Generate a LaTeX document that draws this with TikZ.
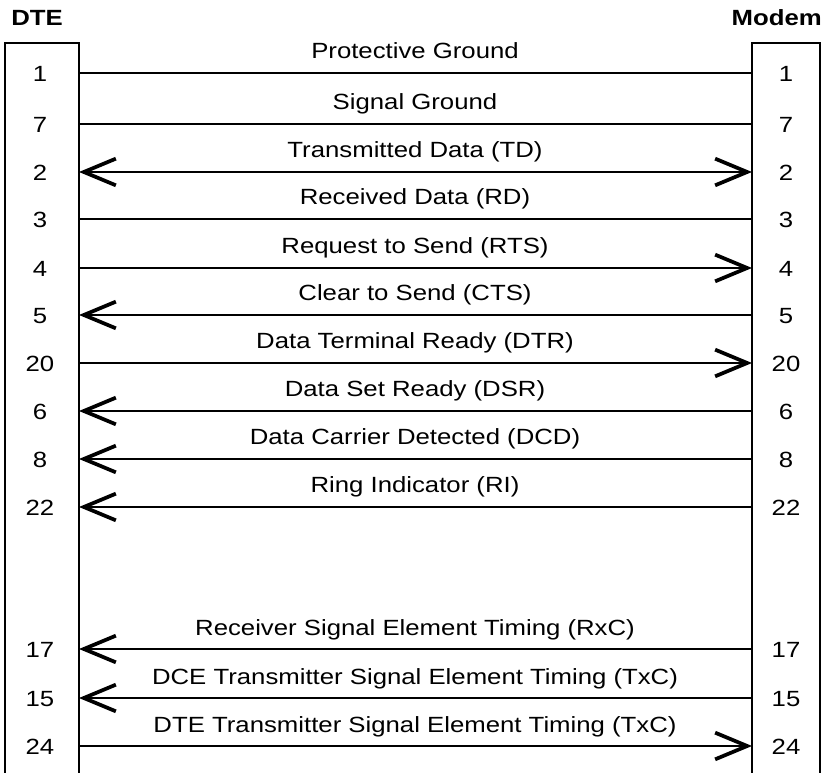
\documentclass[tikz,border=0pt]{standalone}
\usepackage{fontspec}
\setmainfont{Liberation Sans}[FakeStretch=1.17]
\usetikzlibrary{arrows.meta}
\begin{document}
\begin{tikzpicture}[x=0.75pt,y=-0.75pt,
  font=\fontsize{16.5}{19}\selectfont,
  >={Straight Barb[length=24pt,width=20pt,line width=2.8pt]},
  box/.style={line width=1.7pt},
  wire/.style={line width=1.4pt},
  pin/.style={inner sep=0pt},
  sig/.style={anchor=base,inner sep=0pt},
  head/.style={font=\fontsize{16.5}{19}\selectfont\bfseries,inner sep=0pt}]
\useasboundingbox (0,0) rectangle (829,773);
\clip (0,0) rectangle (829,773);
% headings
\node[head,anchor=base west] (dte) at (11,26) {DTE};
\node[head,anchor=base east] (modem) at (822,26) {Modem};
% boxes
\draw[box] (5,790) -- (5,43) -- (79,43) -- (79,790);
\draw[box] (752,790) -- (752,43) -- (820,43) -- (820,790);
% signals
\foreach \n/\y/\lab/\arr in {
  1/73/Protective Ground/-,
  7/124/Signal Ground/-,
  2/172/Transmitted Data (TD)/<->,
  3/219/Received Data (RD)/-,
  4/268/Request to Send (RTS)/->,
  5/315/Clear to Send (CTS)/<-,
  20/363/Data Terminal Ready (DTR)/->,
  6/411/Data Set Ready (DSR)/<-,
  8/459/Data Carrier Detected (DCD)/<-,
  22/507/Ring Indicator (RI)/<-,
  17/649/Receiver Signal Element Timing (RxC)/<-,
  15/698/DCE Transmitter Signal Element Timing (TxC)/<-,
  24/746/DTE Transmitter Signal Element Timing (TxC)/->}{
  \node[pin] (dn\n) at (40,\y+1) {\n};
  \node[pin] (mn\n) at (786,\y+1) {\n};
  \coordinate (l\n) at (79,\y);
  \coordinate (r\n) at (752,\y);
  \node[sig] (lab\n) at (415,\y-14) {\lab};
  \draw[wire,\arr] (l\n) -- (r\n);
}
\end{tikzpicture}
\end{document}
